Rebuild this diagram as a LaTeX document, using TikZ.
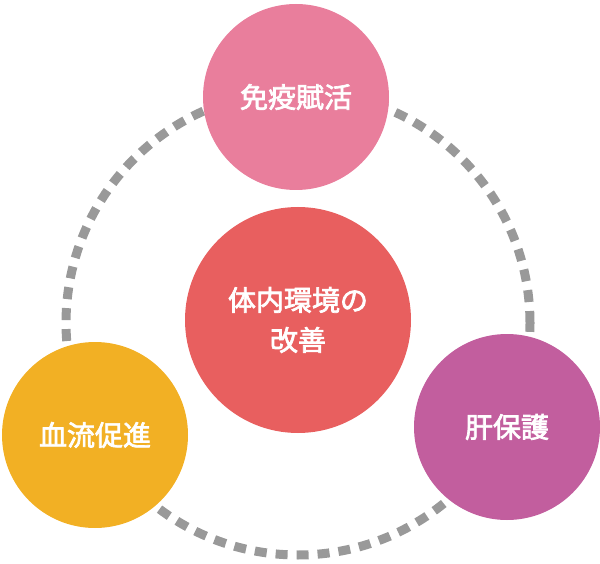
\documentclass[tikz,border=0pt]{standalone}
\usepackage{fontspec}
\newfontfamily\cjk{Noto Sans CJK JP}[AutoFakeBold=2.5]
\definecolor{topPink}{HTML}{E97E9C}
\definecolor{midRed}{HTML}{E85F5F}
\definecolor{leftOrange}{HTML}{F2B024}
\definecolor{rightPurple}{HTML}{C25E9E}
\definecolor{dashGray}{HTML}{999999}
\tikzset{
	bubble/.style={circle, minimum size=186pt, inner sep=0pt, text=white, align=center, font=\cjk\bfseries\fontsize{28}{40}\selectfont}
}
\begin{document}
\begin{tikzpicture}[x=1pt, y=-1pt]
	\useasboundingbox (0,0) rectangle (600,564);
	\node[circle, minimum size=464pt, draw=dashGray, line width=9pt, dash pattern=on 12pt off 9pt](ring) at (298,323){};

	\node[bubble, fill=topPink](immune) at (296,97){免疫賦活};
	\node[bubble, fill=midRed, minimum size=226pt](inner) at (298,320){体内環境の\\改善};
	\node[bubble, fill=leftOrange](blood) at (95,435){血流促進};
	\node[bubble, fill=rightPurple](liver) at (507,427){肝保護};
\end{tikzpicture}
\end{document}
